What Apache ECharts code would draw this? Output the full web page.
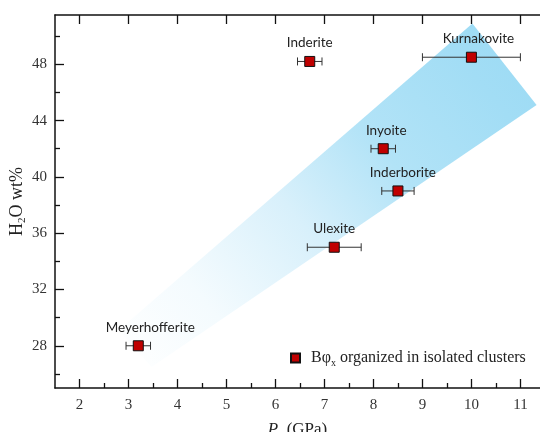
<!DOCTYPE html>
<html>
<head>
<meta charset="utf-8">
<script src="https://cdn.jsdelivr.net/npm/echarts@6/dist/echarts.min.js"></script>
<style>
  html, body { margin: 0; padding: 0; background: #fff; }
  #chart { width: 540px; height: 432px; }
</style>
</head>
<body>
<div id="chart"></div>
<script>
// minerals and their measured values
const minerals = ['Meyerhofferite', 'Ulexite', 'Inderborite', 'Inyoite', 'Inderite', 'Kurnakovite']
const pressure = [3.2, 7.2, 8.5, 8.2, 6.7, 10.0]
const water = [28, 35, 39, 42, 48.2, 48.5]
const pressureErr = [0.25, 0.55, 0.33, 0.25, 0.25, 1.0]

// shaded trend band corners (P, H2O)
const bandP = [2.8, 10.02, 11.33, 3.47]
const bandW = [29.1, 50.9, 45.1, 26.5]

// ticks
const xMajor = [2, 3, 4, 5, 6, 7, 8, 9, 10, 11]
const xMinor = [2.5, 3.5, 4.5, 5.5, 6.5, 7.5, 8.5, 9.5, 10.5]
const yMajor = [28, 32, 36, 40, 44, 48]
const yMinor = [26, 30, 34, 38, 42, 46, 50]

const serif = '"Liberation Serif", "DejaVu Serif", serif'
const axisColor = '#111'
// small horizontal nudges of the point labels, in px
const labelNudge = [12, 0, 5, 3, 0, 7]

let myChart = echarts.init(document.getElementById('chart'), null, { renderer: 'canvas' })

let pointData = minerals.map((m, i) => ({
  name: m,
  value: [pressure[i], water[i]],
  label: { offset: [labelNudge[i], 0] }
}))
let errData = minerals.map((m, i) => [pressure[i], water[i], pressureErr[i]])
let bandData = bandP.map((p, i) => [p, bandW[i]])

function renderBand (params, api) {
  if (params.dataIndex !== 0) return null
  let pts = bandData.map(d => api.coord(d))
  return {
    type: 'polygon',
    shape: { points: pts },
    style: {
      fill: new echarts.graphic.LinearGradient(0, 1, 1, 0, [
        { offset: 0, color: '#ffffff' },
        { offset: 0.2, color: '#f4fbfe' },
        { offset: 0.43, color: '#d8f0fb' },
        { offset: 0.63, color: '#b2e3f7' },
        { offset: 0.85, color: '#a2ddf5' },
        { offset: 1, color: '#9adaf4' }
      ])
    }
  }
}

function renderErr (params, api) {
  let x = api.value(0)
  let y = api.value(1)
  let e = api.value(2)
  let lo = api.coord([x - e, y])
  let hi = api.coord([x + e, y])
  let cap = 4
  let st = { stroke: '#333', lineWidth: 1 }
  return {
    type: 'group',
    children: [
      { type: 'line', shape: { x1: lo[0], y1: lo[1], x2: hi[0], y2: hi[1] }, style: st },
      { type: 'line', shape: { x1: lo[0], y1: lo[1] - cap, x2: lo[0], y2: lo[1] + cap }, style: st },
      { type: 'line', shape: { x1: hi[0], y1: hi[1] - cap, x2: hi[0], y2: hi[1] + cap }, style: st }
    ]
  }
}

const legendName = 'Bφx organized in isolated clusters'

myChart.setOption({
  animation: false,
  grid: { left: 55, right: 0, top: 15, bottom: 44, outerBoundsMode: 'none', containLabel: false },
  legend: {
    data: [legendName],
    left: 285,
    top: 345,
    icon: 'rect',
    itemWidth: 9,
    itemHeight: 9,
    formatter: () => 'Bφ{sub|x} organized in isolated clusters',
    textStyle: {
      fontFamily: serif,
      fontSize: 16,
      color: '#222',
      padding: [0, 0, 0, 6],
      rich: {
        sub: { fontFamily: serif, fontSize: 10, color: '#222', verticalAlign: 'bottom', padding: [10, 0, 0, 0] }
      }
    }
  },
  xAxis: [
    {
      type: 'value',
      min: 1.5,
      max: 11.4,
      position: 'bottom',
      name: '{i|P}  (GPa)',
      nameLocation: 'middle',
      nameGap: 33,
      nameMoveOverlap: false,
      nameTextStyle: {
        fontFamily: serif,
        fontSize: 17,
        color: '#222',
        rich: { i: { fontFamily: serif, fontSize: 17, fontStyle: 'italic', color: '#222' } }
      },
      axisLine: { show: true, onZero: false, lineStyle: { color: axisColor, width: 1.5 } },
      axisTick: { show: true, inside: true, length: 9, customValues: xMajor, lineStyle: { color: axisColor, width: 1.3 } },
      axisLabel: { customValues: xMajor, margin: 10, fontFamily: serif, fontSize: 15, color: '#333' },
      splitLine: { show: false }
    },
    {
      type: 'value',
      min: 1.5,
      max: 11.4,
      position: 'bottom',
      axisLine: { show: false, onZero: false },
      axisTick: { show: true, inside: true, length: 5, customValues: xMinor, lineStyle: { color: axisColor, width: 1.3 } },
      axisLabel: { show: false },
      splitLine: { show: false }
    },
    {
      type: 'value',
      min: 1.5,
      max: 11.4,
      position: 'top',
      axisLine: { show: true, onZero: false, lineStyle: { color: axisColor, width: 1.5 } },
      axisTick: { show: true, inside: true, length: 9, customValues: xMajor, lineStyle: { color: axisColor, width: 1.3 } },
      axisLabel: { show: false },
      splitLine: { show: false }
    }
  ],
  yAxis: [
    {
      type: 'value',
      min: 25,
      max: 51.5,
      position: 'left',
      name: 'H{sub|2}O wt%',
      nameLocation: 'middle',
      nameGap: 27,
      nameMoveOverlap: false,
      nameTextStyle: {
        fontFamily: serif,
        fontSize: 18,
        color: '#222',
        rich: { sub: { fontFamily: serif, fontSize: 11, color: '#222', verticalAlign: 'bottom', padding: [11, 0, 0, 0] } }
      },
      axisLine: { show: true, onZero: false, lineStyle: { color: axisColor, width: 1.5 } },
      axisTick: { show: true, inside: true, length: 9, customValues: yMajor, lineStyle: { color: axisColor, width: 1.3 } },
      axisLabel: { customValues: yMajor, margin: 8, fontFamily: serif, fontSize: 15, color: '#333' },
      splitLine: { show: false }
    },
    {
      type: 'value',
      min: 25,
      max: 51.5,
      position: 'left',
      axisLine: { show: false, onZero: false },
      axisTick: { show: true, inside: true, length: 5, customValues: yMinor, lineStyle: { color: axisColor, width: 1.3 } },
      axisLabel: { show: false },
      splitLine: { show: false }
    }
  ],
  series: [
    {
      type: 'custom',
      name: 'band',
      renderItem: renderBand,
      data: bandData,
      z: 1,
      silent: true
    },
    {
      type: 'custom',
      name: 'err',
      renderItem: renderErr,
      data: errData,
      z: 2,
      silent: true
    },
    {
      type: 'scatter',
      name: legendName,
      data: pointData,
      symbol: 'rect',
      symbolSize: 10,
      z: 3,
      itemStyle: { color: '#c00000', borderColor: '#111', borderWidth: 1, opacity: 1 },
      label: {
        show: true,
        position: 'top',
        distance: 6,
        formatter: p => p.name,
        fontFamily: 'Lato, "Open Sans", sans-serif',
        fontSize: 13.5,
        color: '#222'
      }
    }
  ]
})
</script>
</body>
</html>
